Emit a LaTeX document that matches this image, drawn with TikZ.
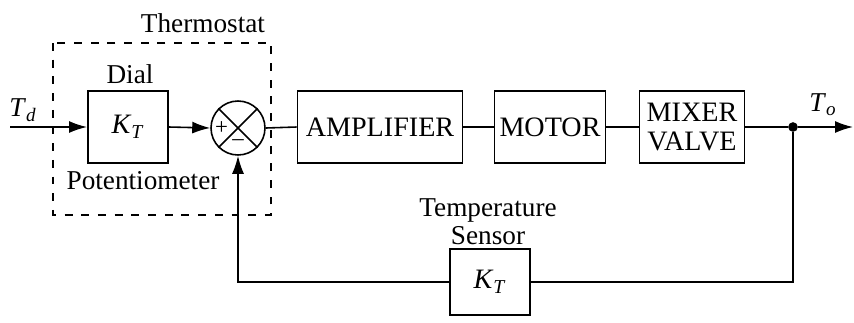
\documentclass[tikz,border=0pt]{standalone}
\usepackage{fontspec}
\setmainfont{Liberation Serif}
\usetikzlibrary{arrows.meta,positioning}
\newcommand{\kt}{\textit{K}\textsubscript{\textit{T}}}

\begin{document}
\begin{tikzpicture}[x=0.02cm,y=-0.02cm,
  blk/.style={draw,line width=1.1pt,minimum height=1.44cm,inner sep=0pt,align=center,
    font=\fontsize{16}{17}\selectfont},
  lbl/.style={font=\fontsize{15.5}{17}\selectfont},
  sig/.style={line width=0.9pt},
  arr/.style={line width=0.9pt,-{Latex[length=3.6mm,width=2.4mm]}}]
\useasboundingbox (0,0) rectangle (854,322);
% thermostat
\draw[line width=1pt,dash pattern=on 4.5pt off 5pt] (53,43) rectangle (271,215);
\node[lbl] (thermo) at (203,23) {Thermostat};
\node[blk,minimum width=1.6cm] (dial) at (128,127) {\kt};
\node[lbl] (diallbl) at (130,74) {Dial};
\node[lbl] (potlbl) at (143,181) {Potentiometer};
\node[circle,draw,line width=0.9pt,minimum size=1.08cm,inner sep=0pt] (sum) at (238,128) {};
\draw[line width=0.9pt] (sum.north west) -- (sum.south east);
\draw[line width=0.9pt] (sum.north east) -- (sum.south west);
\node[font=\fontsize{13}{14}\selectfont] (plus) at ([xshift=-0.33cm]sum.center) {+};
\node[font=\fontsize{13}{14}\selectfont] (minus) at ([yshift=-0.29cm]sum.center) {\textendash};
% forward path
\node[blk,minimum width=3.3cm] (amp) at (380,127) {AMPLIFIER};
\node[blk,minimum width=2.22cm] (motor) at (550,127) {MOTOR};
\node[blk,minimum width=2.1cm] (valve) at (692,127) {MIXER\\VALVE};
\node[circle,fill,inner sep=0pt,minimum size=5.5pt] (jn) at (793,127) {};
\coordinate (td) at (10,127);
\coordinate (to) at (853,127);
\node[lbl] (tdlbl) at (23,110) {\textit{T}\textsubscript{\textit{d}}};
\node[lbl] (tolbl) at (823,105) {\textit{T}\textsubscript{\textit{o}}};
% feedback
\node[blk,minimum width=1.6cm,minimum height=1.32cm] (sensor) at (490,282) {\kt};
\node[lbl] (templbl) at (488,210) {Temperature};
\node[lbl] (senslbl) at (488,236) {Sensor};
\draw[arr] (td) -- (dial.west);
\draw[arr] (dial.east) -- (sum.west);
\draw[sig] (sum.east) -- (amp.west);
\draw[sig] (amp.east) -- (motor.west);
\draw[sig] (motor.east) -- (valve.west);
\draw[sig] (valve.east) -- (jn);
\draw[arr] (jn) -- (to);
\draw[sig] (jn) |- (sensor.east);
\draw[arr] (sensor.west) -| (sum.south);
\end{tikzpicture}
\end{document}
